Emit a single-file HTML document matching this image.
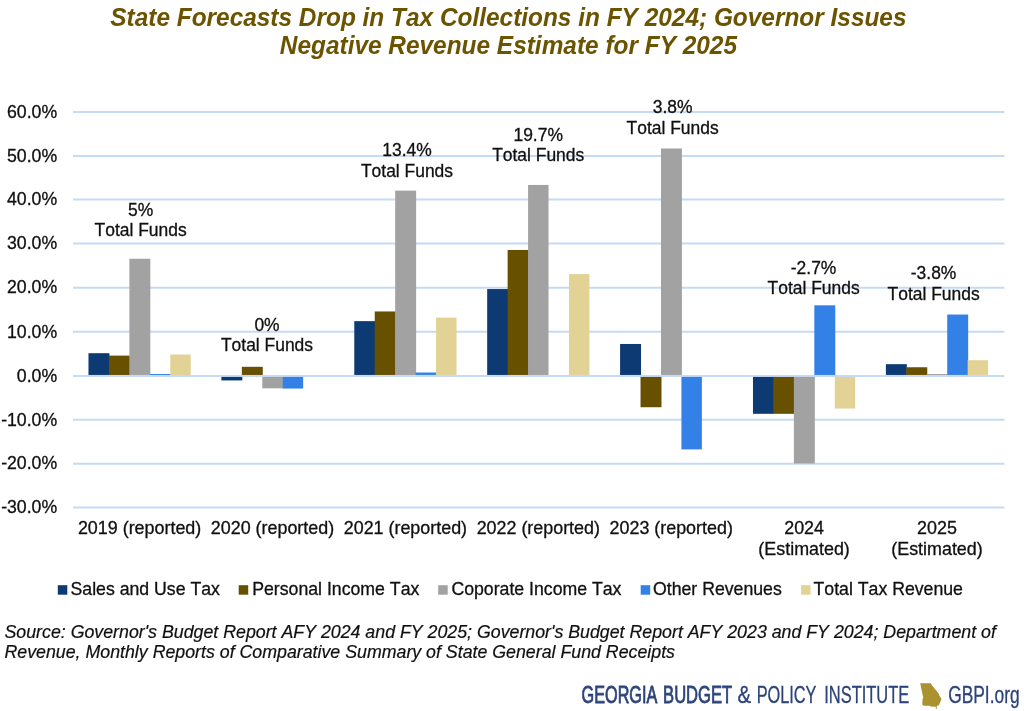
<!DOCTYPE html>
<html><head><meta charset="utf-8"><title>State Forecasts Drop in Tax Collections</title>
<style>html,body{margin:0;padding:0;background:#fff}svg{display:block}text{font-family:"Liberation Sans",sans-serif;font-kerning:none}</style></head><body>
<svg width="1024" height="711" viewBox="0 0 1024 711">
<rect width="1024" height="711" fill="#fff"/>
<g font-size="25.1" font-weight="bold" font-style="italic" fill="#6b5300" text-anchor="middle">
<text transform="translate(508.4,25.7) scale(0.973,1)">State Forecasts Drop in Tax Collections in FY 2024; Governor Issues</text>
<text transform="translate(508.4,53.9) scale(0.973,1)">Negative Revenue Estimate for FY 2025</text></g>
<g stroke="#c5daf6" stroke-width="2">
<line x1="73.0" x2="1004.4" y1="112.00" y2="112.00"/>
<line x1="73.0" x2="1004.4" y1="156.00" y2="156.00"/>
<line x1="73.0" x2="1004.4" y1="199.60" y2="199.60"/>
<line x1="73.0" x2="1004.4" y1="243.60" y2="243.60"/>
<line x1="73.0" x2="1004.4" y1="287.75" y2="287.75"/>
<line x1="73.0" x2="1004.4" y1="331.85" y2="331.85"/>
<line x1="73.0" x2="1004.4" y1="376.00" y2="376.00"/>
<line x1="73.0" x2="1004.4" y1="419.85" y2="419.85"/>
<line x1="73.0" x2="1004.4" y1="463.70" y2="463.70"/>
<line x1="73.0" x2="1004.4" y1="507.55" y2="507.55"/>
</g>
<g font-size="17.7" fill="#101010" stroke="#101010" stroke-width="0.3" text-anchor="end">
<text x="57.2" y="117.7">60.0%</text>
<text x="57.2" y="161.7">50.0%</text>
<text x="57.2" y="205.3">40.0%</text>
<text x="57.2" y="249.3">30.0%</text>
<text x="57.2" y="293.4">20.0%</text>
<text x="57.2" y="337.6">10.0%</text>
<text x="57.2" y="381.7">0.0%</text>
<text x="57.2" y="425.6">-10.0%</text>
<text x="57.2" y="469.4">-20.0%</text>
<text x="57.2" y="513.2">-30.0%</text>
</g>
<rect x="88.48" y="353.20" width="20.95" height="21.75" fill="#0d3a72"/>
<rect x="108.93" y="355.61" width="20.95" height="19.34" fill="#675000"/>
<rect x="129.38" y="258.75" width="20.95" height="116.20" fill="#a2a2a2"/>
<rect x="149.82" y="374.00" width="20.95" height="0.95" fill="#3381e6"/>
<rect x="170.27" y="354.51" width="20.45" height="20.44" fill="#e3d296"/>
<rect x="221.38" y="376.95" width="20.95" height="3.48" fill="#0d3a72"/>
<rect x="241.83" y="366.81" width="20.95" height="8.14" fill="#675000"/>
<rect x="262.28" y="376.95" width="20.95" height="11.39" fill="#a2a2a2"/>
<rect x="282.72" y="376.95" width="20.45" height="11.61" fill="#3381e6"/>
<rect x="354.28" y="321.13" width="20.95" height="53.82" fill="#0d3a72"/>
<rect x="374.73" y="311.46" width="20.95" height="63.49" fill="#675000"/>
<rect x="395.18" y="190.65" width="20.95" height="184.30" fill="#a2a2a2"/>
<rect x="415.62" y="372.52" width="20.95" height="2.43" fill="#3381e6"/>
<rect x="436.07" y="317.61" width="20.45" height="57.34" fill="#e3d296"/>
<rect x="487.18" y="289.06" width="20.95" height="85.89" fill="#0d3a72"/>
<rect x="507.63" y="249.96" width="20.95" height="124.99" fill="#675000"/>
<rect x="528.08" y="184.94" width="20.45" height="190.01" fill="#a2a2a2"/>
<rect x="568.97" y="274.12" width="20.45" height="100.83" fill="#e3d296"/>
<rect x="620.08" y="343.97" width="20.95" height="30.98" fill="#0d3a72"/>
<rect x="640.53" y="376.95" width="20.95" height="30.28" fill="#675000"/>
<rect x="660.98" y="148.48" width="20.95" height="226.47" fill="#a2a2a2"/>
<rect x="681.42" y="376.95" width="20.45" height="72.45" fill="#3381e6"/>
<rect x="752.98" y="376.95" width="20.95" height="36.87" fill="#0d3a72"/>
<rect x="773.43" y="376.95" width="20.95" height="36.87" fill="#675000"/>
<rect x="793.88" y="376.95" width="20.95" height="86.51" fill="#a2a2a2"/>
<rect x="814.32" y="305.31" width="20.95" height="69.64" fill="#3381e6"/>
<rect x="834.77" y="376.95" width="20.45" height="31.60" fill="#e3d296"/>
<rect x="885.88" y="364.18" width="20.95" height="10.77" fill="#0d3a72"/>
<rect x="906.33" y="367.25" width="20.95" height="7.70" fill="#675000"/>
<rect x="926.78" y="374.00" width="20.95" height="0.95" fill="#a2a2a2"/>
<rect x="947.22" y="314.54" width="20.95" height="60.41" fill="#3381e6"/>
<rect x="967.67" y="360.22" width="20.45" height="14.73" fill="#e3d296"/>
<g font-size="17.9" fill="#101010" stroke="#101010" stroke-width="0.3" text-anchor="middle">
<text x="139.6" y="534.4">2019 (reported)</text>
<text x="272.5" y="534.4">2020 (reported)</text>
<text x="405.4" y="534.4">2021 (reported)</text>
<text x="538.3" y="534.4">2022 (reported)</text>
<text x="671.2" y="534.4">2023 (reported)</text>
<text x="804.1" y="534.4">2024</text><text x="804.1" y="555.0">(Estimated)</text>
<text x="937.0" y="534.4">2025</text><text x="937.0" y="555.0">(Estimated)</text>
</g>
<g font-size="17.45" fill="#101010" stroke="#101010" stroke-width="0.3" text-anchor="middle">
<text x="140.6" y="215.8">5%</text><text x="140.6" y="236.4">Total Funds</text>
<text x="267" y="330.8">0%</text><text x="267" y="351.4">Total Funds</text>
<text x="407" y="156.3">13.4%</text><text x="407" y="176.9">Total Funds</text>
<text x="538.2" y="140.8">19.7%</text><text x="538.2" y="161.4">Total Funds</text>
<text x="672.6" y="113.2">3.8%</text><text x="672.6" y="133.8">Total Funds</text>
<text x="813.6" y="273.8">-2.7%</text><text x="813.6" y="294.4">Total Funds</text>
<text x="933.6" y="279.4">-3.8%</text><text x="933.6" y="300.0">Total Funds</text>
</g>
<g font-size="17.7" fill="#101010" stroke="#101010" stroke-width="0.3">
<rect x="57.8" y="585.2" width="9.5" height="9.5" fill="#0d3a72" stroke="none"/><text x="70.5" y="595.4">Sales and Use Tax</text>
<rect x="238.7" y="585.2" width="9.5" height="9.5" fill="#675000" stroke="none"/><text x="252.2" y="595.4">Personal Income Tax</text>
<rect x="438.2" y="585.2" width="9.5" height="9.5" fill="#a2a2a2" stroke="none"/><text x="451.4" y="595.4">Coporate Income Tax</text>
<rect x="640.7" y="585.2" width="9.5" height="9.5" fill="#3381e6" stroke="none"/><text x="653.0" y="595.4">Other Revenues</text>
<rect x="801.1" y="585.2" width="9.5" height="9.5" fill="#e3d296" stroke="none"/><text x="813.5" y="595.4">Total Tax Revenue</text>
</g>
<g font-size="17.78" font-style="italic" fill="#101010" stroke="#101010" stroke-width="0.2">
<text x="4.5" y="637.8">Source: Governor's Budget Report AFY 2024 and FY 2025; Governor's Budget Report AFY 2023 and FY 2024; Department of</text>
<text x="4.5" y="657.8">Revenue, Monthly Reports of Comparative Summary of State General Fund Receipts</text></g>
<g font-size="23.4" fill="#2c4379">
<text x="581.6" y="702.7" font-weight="normal" textLength="75.7" lengthAdjust="spacingAndGlyphs" stroke="#2c4379" stroke-width="0.8">GEORGIA</text>
<text x="663.1" y="702.7" font-weight="normal" textLength="69.0" lengthAdjust="spacingAndGlyphs" stroke="#2c4379" stroke-width="0.8">BUDGET</text>
<text x="737.6" y="702.7" font-weight="normal" textLength="13.6" lengthAdjust="spacingAndGlyphs" stroke="#2c4379" stroke-width="0.3">&amp;</text>
<text x="756.7" y="702.7" font-weight="normal" textLength="59.8" lengthAdjust="spacingAndGlyphs" stroke="#2c4379" stroke-width="0.3">POLICY</text>
<text x="824.2" y="702.7" font-weight="normal" textLength="85.1" lengthAdjust="spacingAndGlyphs" stroke="#2c4379" stroke-width="0.3">INSTITUTE</text>
<text x="948.2" y="702.7" font-weight="normal" textLength="71.4" lengthAdjust="spacingAndGlyphs" stroke="#2c4379" stroke-width="0.3">GBPI.org</text>
</g>
<path fill="#aa9230" d="M920.1 683.3H930.9L931.7 684.9L938.5 693.2L939.5 695.7L941.5 699.1L940.5 701.6L939 705L936.8 706V709L935.8 708.5V706.8L930.7 706.5L929.7 705.8H923.5L922.3 704.5L922.5 699.1L923.3 697.7L921.6 690.3L920.6 684.9Z"/>
</svg></body></html>
